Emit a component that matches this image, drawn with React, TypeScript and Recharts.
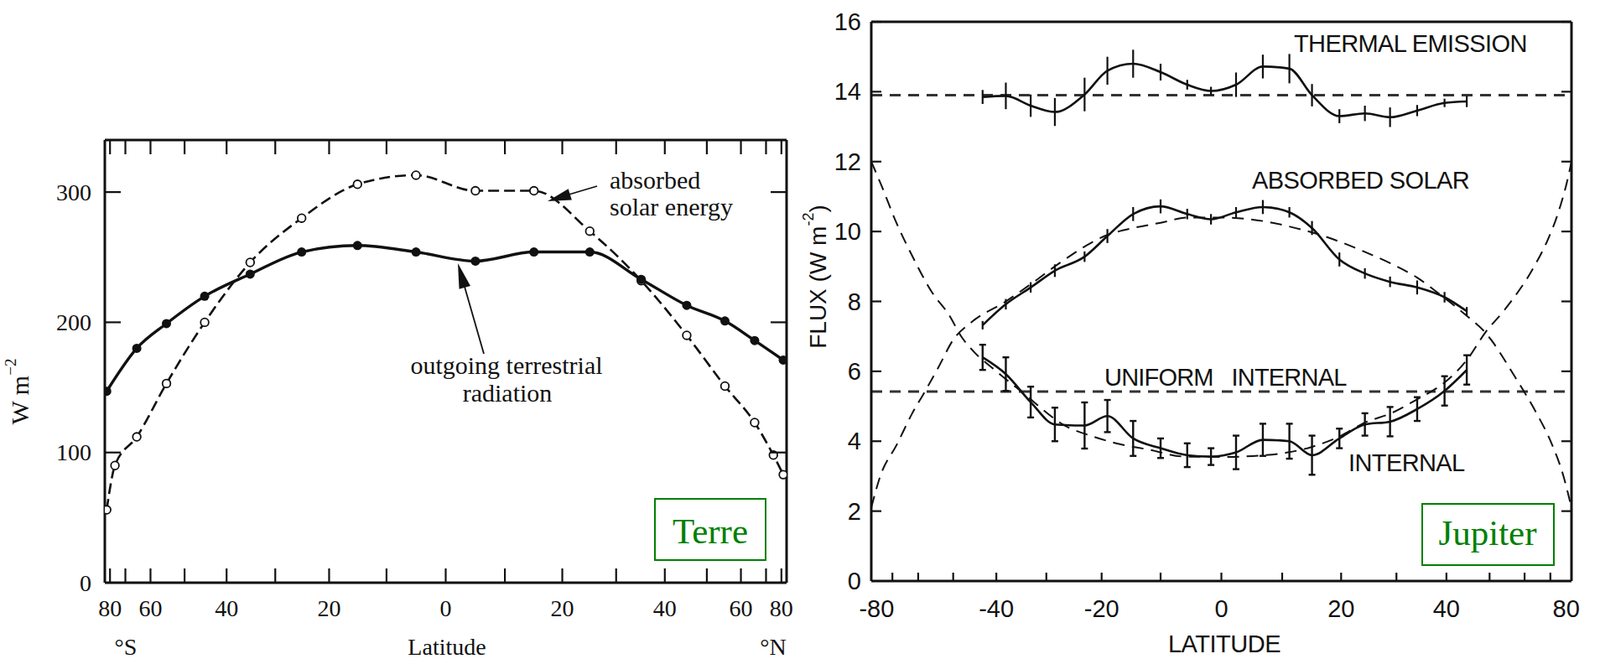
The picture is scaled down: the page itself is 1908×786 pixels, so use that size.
import React from 'react';
import { LineChart, Line, XAxis, YAxis, ErrorBar, ReferenceLine } from 'recharts';

// ---------- Terre (left panel), x axis is sin(latitude) ----------
const terreTickLat = [-80, -70, -60, -50, -40, -30, -20, -10, 0, 10, 20, 30, 40, 50, 60, 70, 80];
const terreTickText = ['80', '', '60', '', '40', '', '20', '', '0', '', '20', '', '40', '', '60', '', '80'];
const terreYTicks = [0, 100, 200, 300];

const outgoingLat = [-84, -65, -55, -45, -35, -25, -15, -5, 5, 15, 25, 35, 45, 55, 65, 82];
const outgoingVal = [147, 180, 199, 220, 237, 254, 259, 254, 247, 254, 254, 233, 213, 201, 186, 171];

const absorbedLat = [-84, -76, -65, -55, -45, -35, -25, -15, -5, 5, 15, 25, 35, 45, 55, 65, 74, 82];
const absorbedVal = [56, 90, 112, 153, 200, 246, 280, 306, 313, 301, 301, 270, 232, 190, 151, 123, 98, 83];

// ---------- Jupiter (right panel), x axis is sin(latitude) ----------
const jupTickLat = [-80, -70, -60, -50, -40, -30, -20, -10, 0, 10, 20, 30, 40, 50, 60, 70, 80];
const jupTickText = ['-80', '', '', '', '-40', '', '-20', '', '0', '', '20', '', '40', '', '', '', '80'];
const jupYTicks = [0, 2, 4, 6, 8, 10, 12, 14, 16];

const jupLat = [-43, -38, -33, -28.4, -23, -19, -14.6, -10, -5.6, -1.7, 2.4, 6.8, 11.2, 15, 19.7, 24.2, 28.8, 34, 39.6, 44.5];
const thermal = [13.85, 13.88, 13.6, 13.42, 13.92, 14.6, 14.8, 14.56, 14.2, 14.02, 14.2, 14.72, 14.66, 13.9, 13.3, 13.38, 13.27, 13.46, 13.68, 13.72];
const thermalErr = [0.2, 0.38, 0.32, 0.4, 0.48, 0.4, 0.4, 0.24, 0.14, 0.12, 0.35, 0.34, 0.42, 0.32, 0.2, 0.22, 0.28, 0.16, 0.12, 0.16];
const absorbedSolar = [7.32, 7.92, 8.4, 8.88, 9.28, 9.87, 10.5, 10.72, 10.5, 10.35, 10.55, 10.7, 10.55, 10.1, 9.2, 8.8, 8.56, 8.4, 8.12, 7.72];
const absorbedSolarErr = [0.12, 0.15, 0.15, 0.18, 0.15, 0.2, 0.2, 0.2, 0.15, 0.15, 0.15, 0.2, 0.15, 0.2, 0.2, 0.15, 0.15, 0.2, 0.15, 0.12];
const internal = [6.4, 5.92, 5.12, 4.48, 4.45, 4.72, 4.08, 3.8, 3.6, 3.56, 3.68, 4.04, 4.0, 3.6, 4.08, 4.48, 4.56, 4.92, 5.44, 6.04];
const internalErr = [0.36, 0.48, 0.44, 0.48, 0.66, 0.46, 0.5, 0.28, 0.34, 0.24, 0.48, 0.46, 0.5, 0.56, 0.28, 0.32, 0.42, 0.34, 0.42, 0.42];

const absModelLat = [-90, -77, -68, -62, -58, -54, -50, -45.6, -38, -32, -27.5, -19, -14.6, -10, -5.5, 0, 6.8, 11, 17, 24, 29, 34, 39, 44, 49, 57, 63.6, 70.7, 77.4, 90];
const absModelVal = [2.1, 3.0, 3.9, 4.8, 5.4, 6.1, 6.9, 7.4, 8.0, 8.6, 9.1, 9.9, 10.1, 10.25, 10.4, 10.4, 10.3, 10.15, 9.87, 9.43, 9.08, 8.68, 8.16, 7.64, 7.1, 5.84, 4.88, 3.92, 3.04, 2.1];

const intModelLat = [-90, -76, -68.5, -62, -56, -51, -48, -45.6, -40, -35, -26, -22, -17, -12, -6, 0, 7, 11, 15, 20, 24, 29, 34, 39.6, 44.5, 49, 54, 63.6, 68.7, 73.7, 82.5, 90];
const intModelVal = [12.0, 11.3, 10.3, 9.3, 8.3, 7.6, 7.0, 6.64, 6.0, 5.44, 4.4, 4.16, 3.92, 3.76, 3.56, 3.55, 3.6, 3.68, 3.84, 4.16, 4.52, 4.8, 5.2, 5.68, 6.32, 7.12, 7.76, 9.04, 9.75, 10.47, 11.6, 12.0];

const thermalMean = 13.9;
const uniformInternal = 5.42;

// ---------- helpers ----------
const ink = '#111';
const green = '#008000';
const serif = '"Liberation Serif", "Times New Roman", serif';
const sans = '"Liberation Sans", Arial, sans-serif';

const sinLat = (lat: number) => Math.sin((lat * Math.PI) / 180);
const table = (lats: number[], vals: number[], errs?: number[]) =>
  lats.map((lat, i) => ({ x: sinLat(lat), v: vals[i], e: errs ? errs[i] : 0 }));

const terreTicks = terreTickLat.map(sinLat);
const jupTicks = jupTickLat.map(sinLat);

const outgoingData = table(outgoingLat, outgoingVal);
const absorbedData = table(absorbedLat, absorbedVal);
const thermalData = table(jupLat, thermal, thermalErr);
const absSolarData = table(jupLat, absorbedSolar, absorbedSolarErr);
const internalData = table(jupLat, internal, internalErr);
const absModelData = table(absModelLat, absModelVal);
const intModelData = table(intModelLat, intModelVal);

const BottomTick = (p: any) => {
  const { x, y, index, labels, len, dy, font, size, noMark } = p;
  const label = labels[index];
  const mark = !(noMark && noMark.includes(index));
  return (
    <g>
      {mark && <line x1={x} y1={y} x2={x} y2={y - len} stroke={ink} strokeWidth={2.2} />}
      {label && (
        <text x={x} y={y + dy} textAnchor="middle" fontFamily={font} fontSize={size} fill={ink}>
          {label}
        </text>
      )}
    </g>
  );
};

const TopTick = (p: any) => {
  const { x, y, len } = p;
  return <line x1={x} y1={y} x2={x} y2={y + len} stroke={ink} strokeWidth={2.2} />;
};

const LeftTick = (p: any) => {
  const { x, y, payload, len, gap, font, size } = p;
  return (
    <g>
      {payload.value !== 0 && <line x1={x} y1={y} x2={x + len} y2={y} stroke={ink} strokeWidth={2.2} />}
      <text x={x - gap} y={y} textAnchor="end" dominantBaseline="central" fontFamily={font} fontSize={size} fill={ink}>
        {payload.value}
      </text>
    </g>
  );
};

const RightTick = (p: any) => {
  const { x, y, payload, len } = p;
  if (payload.value === 0) return <g />;
  return <line x1={x} y1={y} x2={x - len} y2={y} stroke={ink} strokeWidth={2.2} />;
};

const arrowHead = (x1: number, y1: number, x2: number, y2: number, len: number, half: number) => {
  const dx = x2 - x1;
  const dy = y2 - y1;
  const d = Math.hypot(dx, dy);
  const ux = dx / d;
  const uy = dy / d;
  const bx = x2 - ux * len;
  const by = y2 - uy * len;
  return `${x2},${y2} ${bx - uy * half},${by + ux * half} ${bx + uy * half},${by - ux * half}`;
};

const frame = { stroke: ink, strokeWidth: 3 };

function TerreChart() {
  return (
    <LineChart width={960} height={786} margin={{ top: 166, right: 21, bottom: 90, left: 124 }}>
      <XAxis
        xAxisId="b"
        type="number"
        dataKey="x"
        domain={[-1, 1]}
        allowDataOverflow
        ticks={terreTicks}
        interval={0}
        height={1}
        tickSize={0}
        tickMargin={0}
        axisLine={frame}
        tickLine={false}
        tick={<BottomTick labels={terreTickText} len={17} dy={40} font={serif} size={28} />}
      />
      <XAxis
        xAxisId="t"
        orientation="top"
        type="number"
        dataKey="x"
        domain={[-1, 1]}
        allowDataOverflow
        ticks={terreTicks}
        interval={0}
        height={1}
        tickSize={0}
        tickMargin={0}
        axisLine={frame}
        tickLine={false}
        tick={<TopTick len={17} />}
      />
      <YAxis
        yAxisId="l"
        type="number"
        domain={[0, 340]}
        allowDataOverflow
        ticks={terreYTicks}
        interval={0}
        width={1}
        tickSize={0}
        tickMargin={0}
        axisLine={frame}
        tickLine={false}
        tick={<LeftTick len={19} gap={16} font={serif} size={28} />}
      />
      <YAxis
        yAxisId="r"
        orientation="right"
        type="number"
        domain={[0, 340]}
        allowDataOverflow
        ticks={terreYTicks}
        interval={0}
        width={1}
        tickSize={0}
        tickMargin={0}
        axisLine={frame}
        tickLine={false}
        tick={<RightTick len={19} />}
      />
      <Line
        xAxisId="b"
        yAxisId="l"
        data={absorbedData}
        dataKey="v"
        type="monotone"
        stroke={ink}
        strokeWidth={2.6}
        strokeDasharray="13 6"
        isAnimationActive={false}
        dot={(p: any) => (
          <circle key={`a${p.index}`} cx={p.cx} cy={p.cy} r={4.8} fill="#fff" stroke={ink} strokeWidth={1.8} />
        )}
      />
      <Line
        xAxisId="b"
        yAxisId="l"
        data={outgoingData}
        dataKey="v"
        type="monotone"
        stroke={ink}
        strokeWidth={3.4}
        isAnimationActive={false}
        dot={(p: any) => <circle key={`o${p.index}`} cx={p.cx} cy={p.cy} r={5.5} fill={ink} />}
      />
    </LineChart>
  );
}

function JupiterChart() {
  return (
    <LineChart width={948} height={786} margin={{ top: 25, right: 33, bottom: 92, left: 78 }}>
      <XAxis
        xAxisId="b"
        type="number"
        dataKey="x"
        domain={[-1, 1]}
        allowDataOverflow
        ticks={jupTicks}
        interval={0}
        height={1}
        tickSize={0}
        tickMargin={0}
        axisLine={frame}
        tickLine={false}
        tick={<BottomTick labels={jupTickText} len={10} dy={43} font={sans} size={29} noMark={[0, 16]} />}
      />
      <XAxis
        xAxisId="t"
        orientation="top"
        type="number"
        dataKey="x"
        domain={[-1, 1]}
        allowDataOverflow
        ticks={jupTicks}
        interval={0}
        height={1}
        tickSize={0}
        tickMargin={0}
        axisLine={frame}
        tickLine={false}
        tick={() => <g />}
      />
      <YAxis
        yAxisId="l"
        type="number"
        domain={[0, 16]}
        allowDataOverflow
        ticks={jupYTicks}
        interval={0}
        width={1}
        tickSize={0}
        tickMargin={0}
        axisLine={frame}
        tickLine={false}
        tick={<LeftTick len={12} gap={12} font={sans} size={29} />}
      />
      <YAxis
        yAxisId="r"
        orientation="right"
        type="number"
        domain={[0, 16]}
        allowDataOverflow
        ticks={jupYTicks}
        interval={0}
        width={1}
        tickSize={0}
        tickMargin={0}
        axisLine={frame}
        tickLine={false}
        tick={<RightTick len={12} />}
      />
      <ReferenceLine xAxisId="b" yAxisId="l" y={thermalMean} stroke="#333" strokeWidth={3} strokeDasharray="13 9" />
      <ReferenceLine xAxisId="b" yAxisId="l" y={uniformInternal} stroke="#333" strokeWidth={3} strokeDasharray="13 9" />
      <Line
        xAxisId="b"
        yAxisId="l"
        data={absModelData}
        dataKey="v"
        type="monotone"
        stroke={ink}
        strokeWidth={2}
        strokeDasharray="14 9"
        dot={false}
        isAnimationActive={false}
      />
      <Line
        xAxisId="b"
        yAxisId="l"
        data={intModelData}
        dataKey="v"
        type="monotone"
        stroke={ink}
        strokeWidth={2}
        strokeDasharray="14 9"
        dot={false}
        isAnimationActive={false}
      />
      <Line
        xAxisId="b"
        yAxisId="l"
        data={thermalData}
        dataKey="v"
        type="monotone"
        stroke={ink}
        strokeWidth={2.6}
        dot={false}
        isAnimationActive={false}
      >
        <ErrorBar dataKey="e" direction="y" width={0} stroke={ink} strokeWidth={2.2} />
      </Line>
      <Line
        xAxisId="b"
        yAxisId="l"
        data={absSolarData}
        dataKey="v"
        type="monotone"
        stroke={ink}
        strokeWidth={2.6}
        dot={false}
        isAnimationActive={false}
      >
        <ErrorBar dataKey="e" direction="y" width={0} stroke={ink} strokeWidth={2.2} />
      </Line>
      <Line
        xAxisId="b"
        yAxisId="l"
        data={internalData}
        dataKey="v"
        type="monotone"
        stroke={ink}
        strokeWidth={2.6}
        dot={false}
        isAnimationActive={false}
      >
        <ErrorBar dataKey="e" direction="y" width={4} stroke={ink} strokeWidth={2.4} />
      </Line>
    </LineChart>
  );
}

function Overlay() {
  const t = { fontFamily: serif, fontSize: 30, fill: ink };
  const s = { fontFamily: sans, fontSize: 29, fill: ink };
  return (
    <svg width={1908} height={786} style={{ position: 'absolute', left: 0, top: 0, pointerEvents: 'none' }}>
      {/* Terre annotations */}
      <text x={727} y={225} {...t}>absorbed</text>
      <text x={727} y={257} {...t}>solar energy</text>
      <line x1={712} y1={222} x2={665} y2={236} stroke={ink} strokeWidth={1.8} />
      <polygon points={arrowHead(712, 222, 653, 240, 28, 7)} fill={ink} />
      <text x={604} y={446} textAnchor="middle" {...t}>outgoing terrestrial</text>
      <text x={605} y={479} textAnchor="middle" {...t}>radiation</text>
      <line x1={577} y1={422} x2={550} y2={328} stroke={ink} strokeWidth={1.8} />
      <polygon points={arrowHead(577, 422, 546, 314, 30, 7)} fill={ink} />
      <text x={23} y={467} transform="rotate(-90 23 467)" textAnchor="middle" dominantBaseline="central" fontFamily={serif} fontSize={30} fill={ink}>
        W m<tspan dy={-11} fontSize={19}>−2</tspan>
      </text>
      <text x={150} y={781} textAnchor="middle" fontFamily={serif} fontSize={28} fill={ink}>°S</text>
      <text x={533} y={781} textAnchor="middle" fontFamily={serif} fontSize={28} fill={ink}>Latitude</text>
      <text x={922} y={781} textAnchor="middle" fontFamily={serif} fontSize={28} fill={ink}>°N</text>
      <rect x={781} y={595} width={132} height={73} fill="none" stroke={green} strokeWidth={2} />
      <text x={847} y={648} textAnchor="middle" fontFamily={serif} fontSize={43} fill={green}>Terre</text>

      {/* Jupiter annotations */}
      <text x={1543} y={62} letterSpacing={-0.6} {...s}>THERMAL EMISSION</text>
      <text x={1493} y={225} letterSpacing={-0.6} {...s}>ABSORBED SOLAR</text>
      <text x={1317} y={460} letterSpacing={-0.8} style={{ whiteSpace: 'pre' }} {...s}>UNIFORM   INTERNAL</text>
      <text x={1608} y={562} letterSpacing={-0.6} {...s}>INTERNAL</text>
      <text x={1460} y={778} textAnchor="middle" letterSpacing={-0.5} {...s}>LATITUDE</text>
      <text x={975} y={330} transform="rotate(-90 975 330)" textAnchor="middle" dominantBaseline="central" fontFamily={sans} fontSize={28} fill={ink}>
        FLUX (W m<tspan dy={-11} fontSize={18}>-2</tspan><tspan dy={11}>)</tspan>
      </text>
      <rect x={1696} y={601} width={157} height={73} fill="none" stroke={green} strokeWidth={2} />
      <text x={1774} y={650} textAnchor="middle" fontFamily={serif} fontSize={43} fill={green}>Jupiter</text>
    </svg>
  );
}

export default function App() {
  return (
    <div style={{ position: 'absolute', left: 0, top: 0, width: 1908, height: 786, background: '#fff' }}>
      <div style={{ position: 'absolute', left: 0, top: 0 }}>
        <TerreChart />
      </div>
      <div style={{ position: 'absolute', left: 960, top: 0 }}>
        <JupiterChart />
      </div>
      <Overlay />
    </div>
  );
}
